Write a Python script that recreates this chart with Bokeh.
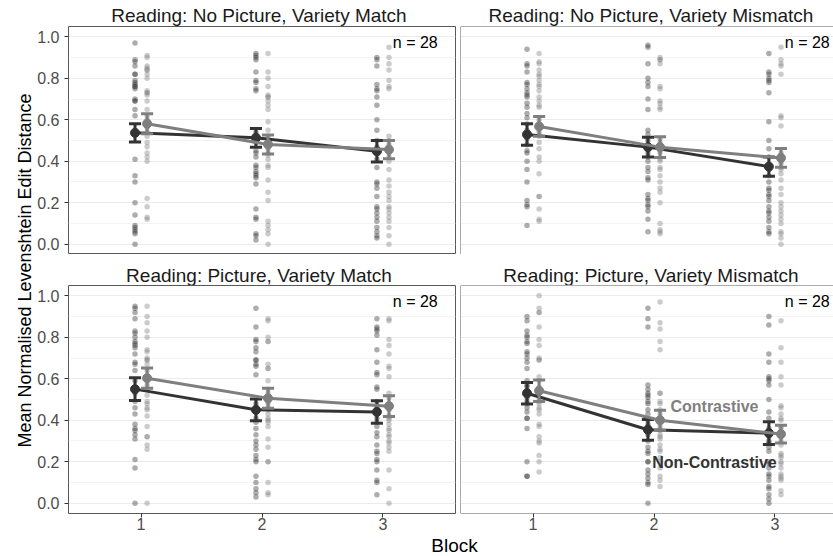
import math
from bokeh.plotting import figure
from bokeh.models import FixedTicker, NumeralTickFormatter, Label, Span, Range1d
from bokeh.layouts import row, column
from bokeh.embed import file_html
from bokeh.resources import INLINE

FONT = "Liberation Sans"

BLOCKS = [1, 2, 3]
GROUPS = ["Non-Contrastive", "Contrastive"]
PANEL_TITLES = [
    "Reading: No Picture, Variety Match",
    "Reading: No Picture, Variety Mismatch",
    "Reading: Picture, Variety Match",
    "Reading: Picture, Variety Mismatch",
]
N_TEXT = "n =  28"
Y_MAJOR = [0.0, 0.2, 0.4, 0.6, 0.8, 1.0]
Y_MINOR = [0.1, 0.3, 0.5, 0.7, 0.9]

# ---- means and standard errors (Block 1, 2, 3) ----
mean_npm_nc = [0.537, 0.513, 0.448]
se_npm_nc = [0.044, 0.045, 0.052]
mean_npm_c = [0.581, 0.481, 0.456]
se_npm_c = [0.048, 0.046, 0.044]

mean_npx_nc = [0.529, 0.468, 0.374]
se_npx_nc = [0.052, 0.048, 0.046]
mean_npx_c = [0.568, 0.468, 0.416]
se_npx_c = [0.048, 0.050, 0.045]

mean_pm_nc = [0.550, 0.450, 0.440]
se_pm_nc = [0.055, 0.052, 0.054]
mean_pm_c = [0.603, 0.506, 0.468]
se_pm_c = [0.049, 0.048, 0.050]

mean_px_nc = [0.530, 0.354, 0.338]
se_px_nc = [0.052, 0.050, 0.055]
mean_px_c = [0.542, 0.400, 0.333]
se_px_c = [0.052, 0.048, 0.043]

# ---- participant values per block ----
pts_npm_nc = [
    [0.97,0.89,0.88,0.86,0.82,0.79,0.78,0.77,0.76,0.76,0.70,0.69,0.65,0.62,0.41,0.33,0.30,0.20,0.14,0.09,0.08,0.07,0.06,0.05,0.00,0.82,0.75,0.69],
    [0.92,0.91,0.90,0.89,0.83,0.79,0.78,0.75,0.74,0.42,0.38,0.37,0.35,0.34,0.33,0.32,0.29,0.17,0.13,0.12,0.05,0.04,0.02,0.54,0.52,0.49,0.45,0.44],
    [0.90,0.89,0.86,0.77,0.75,0.74,0.71,0.67,0.60,0.55,0.37,0.30,0.29,0.23,0.18,0.17,0.15,0.11,0.06,0.04,0.03,0.50,0.47,0.44,0.41,0.27,0.13,0.08],
]
pts_npm_c = [
    [0.91,0.90,0.86,0.85,0.84,0.82,0.80,0.74,0.73,0.72,0.65,0.62,0.49,0.47,0.42,0.40,0.22,0.18,0.13,0.12,0.69,0.60,0.56,0.54,0.52,0.44,0.84,0.73],
    [0.92,0.83,0.80,0.76,0.72,0.71,0.71,0.69,0.67,0.65,0.59,0.55,0.41,0.38,0.37,0.31,0.25,0.21,0.11,0.09,0.07,0.05,0.00,0.52,0.49,0.46,0.44,0.43],
    [0.95,0.90,0.87,0.84,0.79,0.76,0.75,0.52,0.42,0.36,0.31,0.28,0.25,0.23,0.18,0.17,0.15,0.13,0.11,0.04,0.00,0.50,0.48,0.45,0.44,0.40,0.21,0.08],
]
pts_npx_nc = [
    [0.94,0.87,0.86,0.83,0.78,0.77,0.75,0.73,0.72,0.71,0.68,0.66,0.63,0.55,0.53,0.51,0.48,0.44,0.40,0.36,0.30,0.21,0.19,0.18,0.09,0.61,0.58,0.45],
    [0.96,0.95,0.87,0.80,0.78,0.76,0.70,0.65,0.55,0.53,0.48,0.44,0.40,0.32,0.31,0.24,0.22,0.21,0.19,0.18,0.16,0.12,0.06,0.50,0.46,0.42,0.37,0.35],
    [0.92,0.83,0.82,0.80,0.79,0.78,0.73,0.59,0.50,0.46,0.42,0.38,0.36,0.33,0.30,0.27,0.26,0.24,0.23,0.21,0.18,0.16,0.15,0.13,0.11,0.08,0.06,0.05],
]
pts_npx_c = [
    [0.92,0.88,0.87,0.82,0.81,0.79,0.77,0.76,0.74,0.71,0.69,0.67,0.66,0.49,0.46,0.34,0.23,0.23,0.17,0.12,0.11,0.60,0.56,0.54,0.52,0.42,0.40,0.84],
    [0.90,0.89,0.87,0.76,0.69,0.68,0.65,0.48,0.41,0.40,0.37,0.33,0.30,0.27,0.25,0.20,0.10,0.06,0.05,0.51,0.49,0.45,0.44,0.36,0.89,0.75,0.66,0.07],
    [0.95,0.89,0.87,0.86,0.82,0.62,0.61,0.57,0.40,0.39,0.34,0.31,0.20,0.16,0.14,0.12,0.10,0.03,0.00,0.44,0.43,0.37,0.36,0.27,0.24,0.18,0.06,0.05],
]
pts_pm_nc = [
    [0.95,0.94,0.92,0.89,0.83,0.82,0.80,0.78,0.77,0.76,0.75,0.72,0.68,0.67,0.64,0.43,0.38,0.36,0.35,0.33,0.31,0.21,0.17,0.00,0.59,0.53,0.49,0.46],
    [0.94,0.85,0.79,0.78,0.75,0.73,0.69,0.69,0.67,0.66,0.62,0.41,0.39,0.36,0.33,0.30,0.28,0.26,0.23,0.21,0.20,0.13,0.10,0.07,0.05,0.03,0.48,0.44],
    [0.89,0.85,0.84,0.83,0.81,0.74,0.68,0.63,0.62,0.56,0.55,0.41,0.34,0.32,0.28,0.25,0.24,0.21,0.20,0.16,0.11,0.10,0.04,0.49,0.46,0.44,0.39,0.37],
]
pts_pm_c = [
    [0.95,0.90,0.87,0.83,0.80,0.74,0.73,0.70,0.69,0.69,0.67,0.60,0.57,0.52,0.49,0.48,0.42,0.37,0.32,0.32,0.28,0.26,0.00,0.64,0.61,0.55,0.46,0.45],
    [0.89,0.88,0.80,0.78,0.67,0.65,0.59,0.51,0.45,0.43,0.40,0.39,0.31,0.27,0.20,0.20,0.10,0.05,0.04,0.55,0.53,0.49,0.48,0.46,0.41,0.37,0.78,0.65],
    [0.89,0.88,0.79,0.76,0.72,0.66,0.65,0.61,0.53,0.51,0.45,0.42,0.40,0.38,0.36,0.33,0.32,0.30,0.29,0.27,0.25,0.16,0.07,0.00,0.48,0.46,0.41,0.35],
]
pts_px_nc = [
    [0.90,0.88,0.83,0.81,0.80,0.77,0.72,0.70,0.68,0.59,0.54,0.53,0.49,0.41,0.41,0.36,0.20,0.13,0.57,0.51,0.48,0.46,0.44,0.65,0.56,0.73,0.78,0.13],
    [0.94,0.89,0.85,0.57,0.55,0.53,0.52,0.51,0.49,0.48,0.45,0.43,0.40,0.38,0.37,0.33,0.25,0.24,0.20,0.20,0.16,0.14,0.12,0.10,0.09,0.00,0.30,0.27],
    [0.90,0.86,0.72,0.68,0.61,0.60,0.59,0.57,0.50,0.44,0.41,0.36,0.30,0.29,0.25,0.20,0.19,0.14,0.13,0.11,0.08,0.07,0.04,0.02,0.00,0.32,0.27,0.17],
]
pts_px_c = [
    [1.00,0.94,0.92,0.85,0.79,0.76,0.70,0.69,0.69,0.61,0.59,0.51,0.46,0.43,0.38,0.32,0.30,0.29,0.23,0.20,0.15,0.56,0.53,0.49,0.48,0.45,0.37,0.92],
    [0.97,0.87,0.84,0.78,0.74,0.53,0.43,0.41,0.39,0.33,0.31,0.28,0.26,0.25,0.20,0.13,0.11,0.08,0.48,0.45,0.37,0.35,0.32,0.22,0.17,0.49,0.53,0.41],
    [0.88,0.75,0.68,0.61,0.57,0.47,0.43,0.37,0.34,0.32,0.24,0.23,0.22,0.20,0.19,0.14,0.13,0.12,0.06,0.40,0.36,0.30,0.28,0.17,0.11,0.41,0.46,0.04],
]

# ---- styling / layout constants ----
COLORS = {"Non-Contrastive": "#333333", "Contrastive": "#7f7f7f"}
DODGE = {"Non-Contrastive": -0.05, "Contrastive": 0.05}
BORDER = "#595959"
X0 = 0.4
FULL_W = 387
PX_PER_X = FULL_W / 3.2
FRAME_H = 228
LEFT_BORDER = 31
GAP = 5
RIGHT_W = 375
YLAB_W = 34
TOTAL_H = 555
AXIS_H = 23


def blank(w, h):
    f = figure(frame_width=w, frame_height=h, x_range=Range1d(0, 1), y_range=Range1d(0, 1),
               x_axis_location=None, y_axis_location=None, output_backend="svg",
               toolbar_location=None, min_border_left=0, min_border_right=0,
               min_border_top=0, min_border_bottom=0,
               background_fill_color="white", border_fill_color="white")
    f.grid.visible = False
    f.outline_line_color = None
    return f


def strip(title, left_col, h, mid):
    w = LEFT_BORDER + FULL_W + GAP if left_col else RIGHT_W
    cx = (LEFT_BORDER if left_col else 0) + FULL_W / 2
    s = blank(w, h)
    s.add_layout(Label(x=cx, y=mid, x_units="screen", y_units="screen",
                       text=title, text_align="center", text_baseline="middle",
                       text_font=FONT, text_font_size="19px", text_color="#1a1a1a"))
    return s


def make_panel(series, left_col, bottom_row, labels=False):
    fw = FULL_W if left_col else RIGHT_W
    x_end = X0 + fw / PX_PER_X
    p = figure(frame_width=fw, frame_height=FRAME_H,
               x_range=Range1d(X0, x_end), y_range=Range1d(-0.05, 1.05),
               x_axis_location="below" if bottom_row else None,
               y_axis_location="left" if left_col else None,
               output_backend="svg", toolbar_location=None,
               min_border_left=LEFT_BORDER if left_col else 0,
               min_border_right=GAP if left_col else 0,
               min_border_top=0,
               min_border_bottom=AXIS_H if bottom_row else 0,
               background_fill_color="white", border_fill_color="white")
    p.xgrid.grid_line_color = None
    p.ygrid.ticker = FixedTicker(ticks=Y_MAJOR, minor_ticks=Y_MINOR)
    p.ygrid.grid_line_color = "#ebebeb"
    p.ygrid.grid_line_width = 1
    p.ygrid.minor_grid_line_color = "#f3f3f3"
    p.ygrid.minor_grid_line_width = 1

    if left_col:
        p.outline_line_color = BORDER
        p.outline_line_width = 1
        ax = p.yaxis[0]
        ax.ticker = FixedTicker(ticks=Y_MAJOR)
        ax.formatter = NumeralTickFormatter(format="0.0")
        ax.axis_line_color = None
        ax.major_tick_line_color = "#333333"
        ax.major_tick_out = 4
        ax.major_tick_in = 0
        ax.minor_tick_line_color = None
        ax.major_label_standoff = 5
        ax.major_label_text_font = FONT
        ax.major_label_text_font_size = "16px"
        ax.major_label_text_color = "#4d4d4d"
    else:
        p.outline_line_color = None
        p.add_layout(Span(location=X0, dimension="height", line_color=BORDER, line_width=1))
        p.add_layout(Span(location=1.05, dimension="width", line_color=BORDER, line_width=1))
        p.add_layout(Span(location=-0.05, dimension="width", line_color=BORDER, line_width=1))

    if bottom_row:
        ax = p.xaxis[0]
        ax.ticker = FixedTicker(ticks=BLOCKS)
        ax.axis_line_color = None
        ax.major_tick_line_color = "#333333"
        ax.major_tick_out = 4
        ax.major_tick_in = 0
        ax.minor_tick_line_color = None
        ax.major_label_standoff = 0
        ax.major_label_text_font = FONT
        ax.major_label_text_font_size = "16px"
        ax.major_label_text_color = "#4d4d4d"

    # raw participant points
    for g in GROUPS:
        pts = series[g][2]
        xs, ys = [], []
        for b, vals in zip(BLOCKS, pts):
            xs += [b + DODGE[g]] * len(vals)
            ys += vals
        p.scatter(xs, ys, size=5.5, fill_color=COLORS[g], fill_alpha=0.4, line_color=None)

    # means, lines, error bars
    for g in GROUPS:
        means, ses, _ = series[g]
        xs = [b + DODGE[g] for b in BLOCKS]
        c = COLORS[g]
        p.line(xs, means, line_color=c, line_width=3)
        lo = [m - s for m, s in zip(means, ses)]
        hi = [m + s for m, s in zip(means, ses)]
        p.segment(xs, lo, xs, hi, line_color=c, line_width=3)
        p.segment([x - 0.05 for x in xs], lo, [x + 0.05 for x in xs], lo, line_color=c, line_width=3)
        p.segment([x - 0.05 for x in xs], hi, [x + 0.05 for x in xs], hi, line_color=c, line_width=3)
        p.scatter(xs, means, size=9, fill_color=c, line_color=c)

    # n label
    p.add_layout(Label(x=3.49, y=0.973, text=N_TEXT, text_align="right",
                       text_baseline="middle", text_font=FONT,
                       text_font_size="16px", text_color="black"))
    if labels:
        p.add_layout(Label(x=2.5, y=0.465, text="Contrastive", text_align="center",
                           text_baseline="middle", text_font=FONT, text_font_style="bold",
                           text_font_size="16px", text_color=COLORS["Contrastive"]))
        p.add_layout(Label(x=2.5, y=0.195, text="Non-Contrastive", text_align="center",
                           text_baseline="middle", text_font=FONT, text_font_style="bold",
                           text_font_size="16px", text_color=COLORS["Non-Contrastive"]))
    return p


p1 = make_panel({"Non-Contrastive": (mean_npm_nc, se_npm_nc, pts_npm_nc),
                 "Contrastive": (mean_npm_c, se_npm_c, pts_npm_c)},
                left_col=True, bottom_row=False)
p2 = make_panel({"Non-Contrastive": (mean_npx_nc, se_npx_nc, pts_npx_nc),
                 "Contrastive": (mean_npx_c, se_npx_c, pts_npx_c)},
                left_col=False, bottom_row=False)
p3 = make_panel({"Non-Contrastive": (mean_pm_nc, se_pm_nc, pts_pm_nc),
                 "Contrastive": (mean_pm_c, se_pm_c, pts_pm_c)},
                left_col=True, bottom_row=True)
p4 = make_panel({"Non-Contrastive": (mean_px_nc, se_px_nc, pts_px_nc),
                 "Contrastive": (mean_px_c, se_px_c, pts_px_c)},
                left_col=False, bottom_row=True, labels=True)

t1 = strip(PANEL_TITLES[0], True, 26, 10.8)
t2 = strip(PANEL_TITLES[1], False, 26, 10.8)
t3 = strip(PANEL_TITLES[2], True, 31, 10)
t4 = strip(PANEL_TITLES[3], False, 31, 10)

XLAB_H = TOTAL_H - 26 - FRAME_H - 31 - FRAME_H - AXIS_H
xlab = blank(LEFT_BORDER + FULL_W + GAP + RIGHT_W, XLAB_H)
xlab.add_layout(Label(x=454 - YLAB_W, y=XLAB_H / 2 + 1, x_units="screen", y_units="screen",
                      text="Block", text_align="center", text_baseline="middle",
                      text_font=FONT, text_font_size="19px", text_color="black"))

ylab = blank(YLAB_W, TOTAL_H)
ylab.add_layout(Label(x=24, y=TOTAL_H - 270, x_units="screen", y_units="screen",
                      text="Mean Normalised Levenshtein Edit Distance", angle=math.pi / 2,
                      text_align="center", text_baseline="middle",
                      text_font=FONT, text_font_size="18px", text_color="black"))

layout = row(ylab, column(row(t1, t2), row(p1, p2), row(t3, t4), row(p3, p4), xlab))

open("out.html", "w").write(file_html(layout, INLINE))
